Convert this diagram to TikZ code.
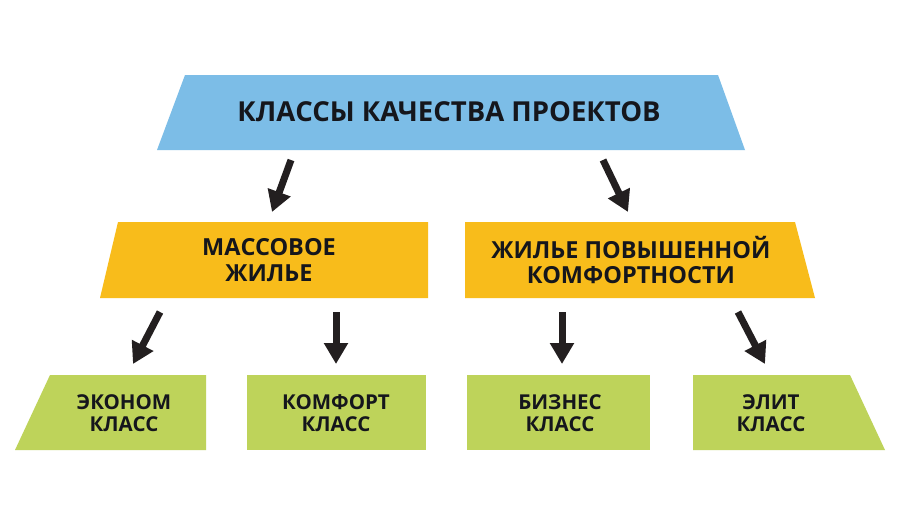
\documentclass[tikz,border=0pt]{standalone}
\usepackage{fontspec}
\setmainfont{Open Sans}
\usetikzlibrary{arrows.meta}
\definecolor{cblue}{HTML}{7CBDE7}
\definecolor{corange}{HTML}{F8BC1B}
\definecolor{cgreen}{HTML}{BED35A}
\definecolor{ctext}{HTML}{15161C}
\definecolor{carrow}{HTML}{231F20}
\tikzset{
  lbl/.style={text=ctext, font=\bfseries, align=center, inner sep=0pt},
  titlelbl/.style={lbl, font=\fontsize{27.5}{32}\selectfont\bfseries},
  midlbl/.style={lbl, font=\fontsize{23.5}{25.5}\selectfont\bfseries},
  lowlbl/.style={lbl, font=\fontsize{20.5}{22}\selectfont\bfseries},
  bigarrow/.style={draw=carrow, line width=7pt, -{Triangle[width=23pt,length=21pt]}, shorten >=0pt}
}
\begin{document}
\begin{tikzpicture}[x=1pt,y=-1pt]
\useasboundingbox[fill=white] (0,0) rectangle (900,515);
% shapes
\fill[cblue] (185,75) -- (718,75) -- (745,150) -- (157,150) -- cycle;
\fill[corange] (118,222) -- (428,222) -- (428,298) -- (100,298) -- cycle;
\fill[corange] (465,222) -- (795,222) -- (815,298) -- (465,298) -- cycle;
\fill[cgreen] (50,375) -- (206,375) -- (206,450) -- (15,450) -- cycle;
\fill[cgreen] (247,375) -- (426,375) -- (426,450) -- (247,450) -- cycle;
\fill[cgreen] (467,375) -- (650,375) -- (650,450) -- (467,450) -- cycle;
\fill[cgreen] (693,375) -- (850,375) -- (885,450) -- (693,450) -- cycle;
% labels
\node[titlelbl] (top) at (449,112) {КЛАССЫ КАЧЕСТВА ПРОЕКТОВ};
\node[midlbl] (mass) at (269,260) {МАССОВОЕ\\ЖИЛЬЕ};
\node[midlbl] (comf) at (631,260) {ЖИЛЬЕ ПОВЫШЕННОЙ\\КОМФОРТНОСТИ};
\node[lowlbl] (econ) at (124,413) {ЭКОНОМ\\КЛАСС};
\node[lowlbl] (komf) at (336,413) {КОМФОРТ\\КЛАСС};
\node[lowlbl] (bus) at (560,413) {БИЗНЕС\\КЛАСС};
\node[lowlbl] (elit) at (771,413) {ЭЛИТ\\КЛАСС};
% arrow anchors
\coordinate (a1s) at (291,160); \coordinate (a1e) at (272,212);
\coordinate (a2s) at (603,160); \coordinate (a2e) at (628,212);
\coordinate (a3s) at (160,312); \coordinate (a3e) at (133,364);
\coordinate (a4s) at (336,312); \coordinate (a4e) at (336,364);
\coordinate (a5s) at (562,312); \coordinate (a5e) at (562,364);
\coordinate (a6s) at (738,312); \coordinate (a6e) at (765,364);
\draw[bigarrow] (a1s) -- (a1e);
\draw[bigarrow] (a2s) -- (a2e);
\draw[bigarrow] (a3s) -- (a3e);
\draw[bigarrow] (a4s) -- (a4e);
\draw[bigarrow] (a5s) -- (a5e);
\draw[bigarrow] (a6s) -- (a6e);
\end{tikzpicture}
\end{document}
